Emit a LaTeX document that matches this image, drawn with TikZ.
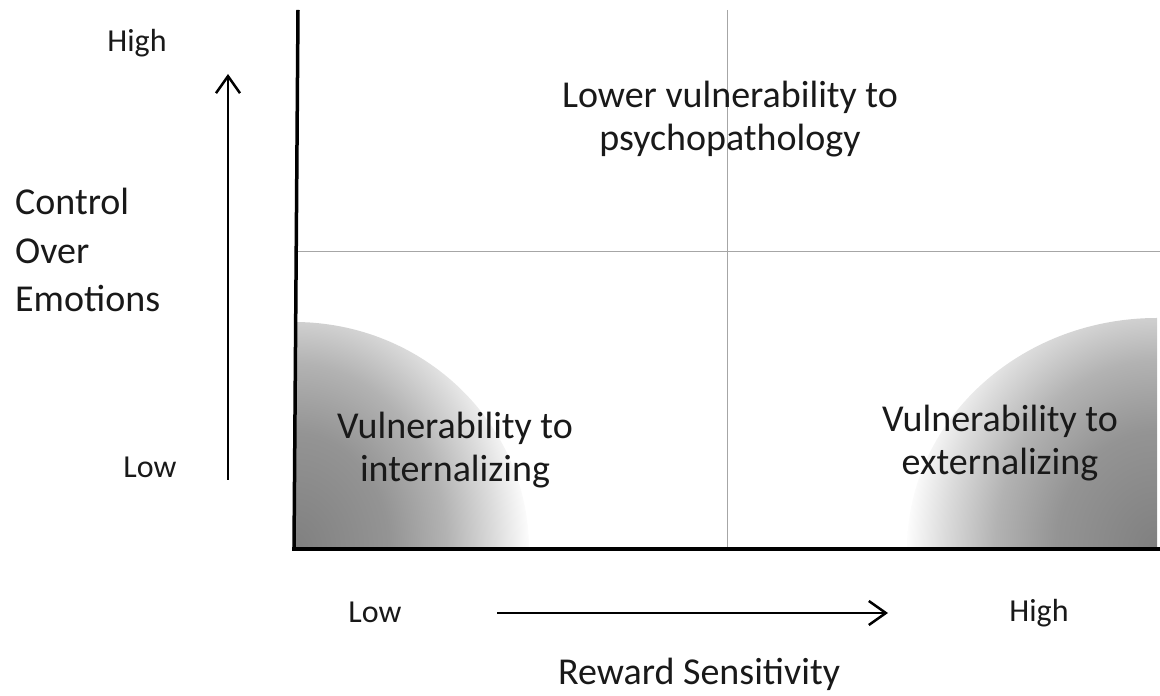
\documentclass[tikz,border=0pt]{standalone}
\usepackage{fontspec}
\setmainfont{Carlito}
\usetikzlibrary{arrows.meta}
\pgfdeclareradialshading{cornerfade}{\pgfpoint{0bp}{0bp}}{color(0bp)=(black!50); color(10bp)=(black!42); color(16bp)=(black!30); color(21bp)=(black!14); color(25bp)=(white); color(50bp)=(white)}
\begin{document}
\begin{tikzpicture}[x=1pt, y=1pt,
	big/.style={font=\fontsize{38}{43}\selectfont, text=black!90, inner sep=0pt, align=center},
	small/.style={font=\fontsize{32}{38}\selectfont, text=black!90, inner sep=0pt},
	axis/.style={line width=3.5pt},
	grid/.style={line width=1pt, black!35},
	arr/.style={line width=2.5pt, -{Straight Barb[length=17pt, width=24pt]}}]
\useasboundingbox (0,0) rectangle (1160,696);

\begin{scope}
	\clip (294,147) rectangle (727,444);
	\clip (294,147) ellipse [x radius=235, y radius=227];
	\shade[shading=cornerfade] (294,147) ellipse [x radius=238, y radius=290];
\end{scope}
\begin{scope}
	\clip (727,147) rectangle (1157,444);
	\clip (1157,147) ellipse [x radius=250, y radius=231];
	\shade[shading=cornerfade] (1157,147) ellipse [x radius=253, y radius=295];
\end{scope}

\draw[grid] (727,686) -- (727,147);
\draw[grid] (298,444) -- (1160,444);
\draw[axis] (298,686) -- (294,147);
\draw[axis] (292,147) -- (1160,147);

\node[small, anchor=base] (yhigh) at (137,644) {High};
\node[small, anchor=base] (ylow) at (150,218) {Low};
\coordinate (ybot) at (228,216);
\coordinate (ytop) at (228,622);
\draw[arr] (ybot) -- (ytop);
\node[big, anchor=base west, align=left, font=\fontsize{38}{48.5}\selectfont] (ylabel) at (15,384) {Control\\Over\\Emotions};

\node[small, anchor=base] (xlow) at (375,73) {Low};
\node[small, anchor=base] (xhigh) at (1039,74) {High};
\coordinate (xleft) at (497,83);
\coordinate (xright) at (888,83);
\draw[arr] (xleft) -- (xright);
\node[big, anchor=base west] (xlabel) at (558,11) {Reward Sensitivity};

\node[big, anchor=base] (lower) at (730,545) {Lower vulnerability to\\psychopathology};
\node[big, anchor=base] (intern) at (455,214) {Vulnerability to\\internalizing};
\node[big, anchor=base] (extern) at (1000,221) {Vulnerability to\\externalizing};
\end{tikzpicture}
\end{document}
